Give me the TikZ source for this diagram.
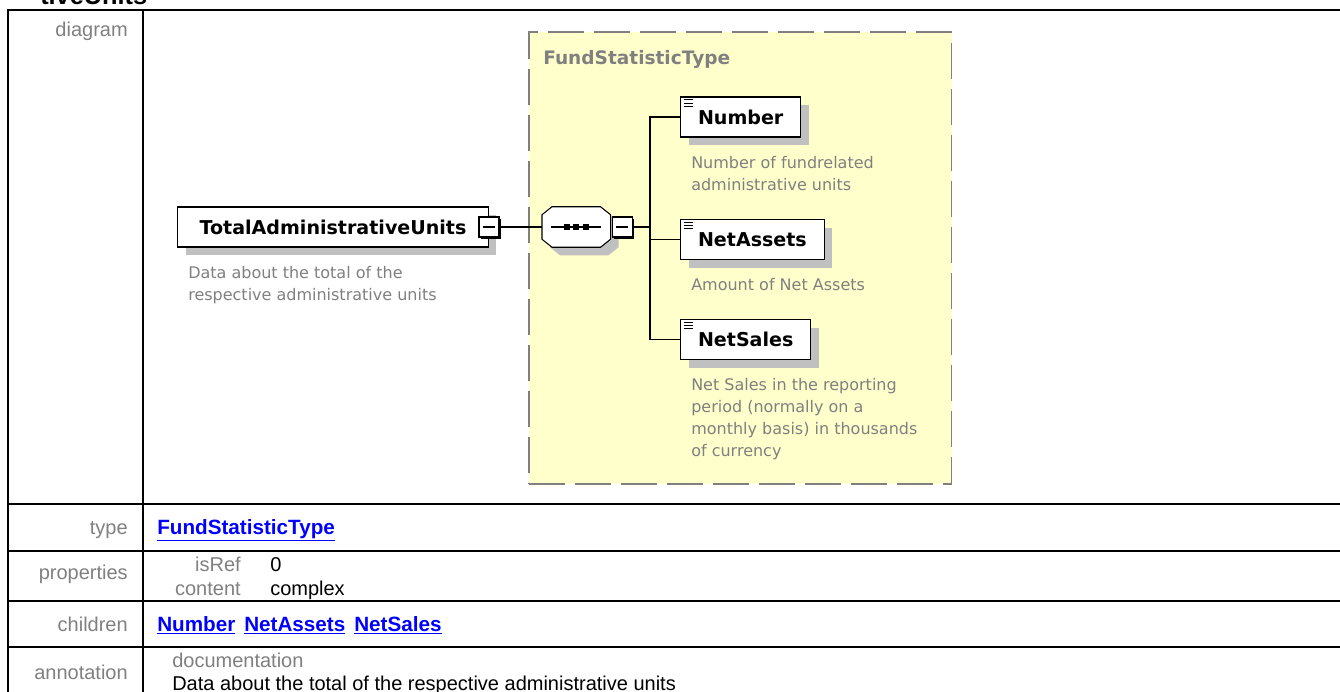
\documentclass[tikz,border=0pt]{standalone}
\usepackage{fontspec}
\setmainfont{Liberation Sans}
\newfontfamily\diafont{DejaVu Sans}
\usepackage{tikz}
\usetikzlibrary{positioning, shadows}

\definecolor{typefill}{RGB}{255,255,204}
\definecolor{shadowgray}{RGB}{192,192,192}
\definecolor{labelgray}{RGB}{128,128,128}
\definecolor{linkblue}{RGB}{0,0,255}

\begin{document}
\begin{tikzpicture}[
    x=0.75pt, y=-0.75pt,
    every node/.style={inner sep=0pt},
    rowlabel/.style={font=\fontsize{15}{18}\selectfont, text=labelgray, anchor=base east},
    cell/.style={font=\fontsize{15}{18}\selectfont, anchor=base west},
    link/.style={font=\fontsize{15.5}{18}\selectfont\bfseries, text=linkblue, anchor=base west},
    tableline/.style={line width=1.5pt},
    element/.style={rectangle, draw, line width=1pt, fill=white, minimum height=30pt,
        inner xsep=13pt, font=\diafont\fontsize{14.3}{17}\selectfont\bfseries,
        drop shadow={shadow xshift=6pt, shadow yshift=-6pt, fill=shadowgray, opacity=1}},
    desc/.style={font=\diafont\fontsize{12}{16.5}\selectfont, text=labelgray, align=left},
    toggle/.style={rectangle, draw, line width=0.8pt, fill=white, minimum size=15pt,
        drop shadow={shadow xshift=1.5pt, shadow yshift=-1.5pt, fill=black, opacity=1},
        path picture={\draw[line width=0.8pt] ([xshift=3pt]path picture bounding box.west)
            -- ([xshift=-3pt]path picture bounding box.east);}},
    seqframe/.style={draw, line width=0.8pt, fill=white,
        drop shadow={shadow xshift=6pt, shadow yshift=-6pt, fill=shadowgray, opacity=1}},
    typebox/.style={rectangle, draw=labelgray, fill=typefill, line width=1.3pt,
        dash pattern=on 27pt off 7.5pt, minimum width=317pt, minimum height=339pt},
    wire/.style={line width=1pt}
]
\useasboundingbox (0,0) rectangle (1340,692);
\clip (0,0) rectangle (1340,692);

% Titolo (tagliato)
\node[font=\fontsize{19}{22}\selectfont\bfseries, anchor=base west] (heading) at (40,5) {tiveUnits};

% Tabella
\draw[tableline] (8,10) rectangle (1350,720);
\draw[tableline] (143,10) -- (143,720);
\foreach \y in {504,551,601,647}
    \draw[tableline] (8,\y) -- (1350,\y);

\node[rowlabel] (lblDiagram) at (128,37) {diagram};
\node[rowlabel] (lblType) at (128,534) {type};
\node[rowlabel] (lblProps) at (128,579) {properties};
\node[rowlabel] (lblChildren) at (128,631) {children};
\node[rowlabel] (lblAnnotation) at (128,679) {annotation};

\node[link] (lnkType) at (157,534) {\underline{FundStatisticType}};
\node[rowlabel] (isRefKey) at (241,571) {isRef};
\node[cell] (isRefVal) at (270,571) {0};
\node[rowlabel] (contentKey) at (241,595) {content};
\node[cell] (contentVal) at (270,595) {complex};
\node[link] (lnkNumber) at (157,631) {\underline{Number}};
\node[link] (lnkNetAssets) at (244,631) {\underline{NetAssets}};
\node[link] (lnkNetSales) at (354,631) {\underline{NetSales}};
\node[cell, text=labelgray] (docKey) at (172,667) {documentation};
\node[cell] (docVal) at (172,690) {Data about the total of the respective administrative units};

% Tipo complesso
\node[typebox, anchor=north west] (fundType) at (528,31) {};
\node[font=\diafont\fontsize{13.9}{17}\selectfont\bfseries, text=labelgray, anchor=base west]
    (fundTypeLabel) at (543,65) {FundStatisticType};

% Elemento radice
\node[element, anchor=west, minimum width=233pt] (total) at (177,227) {TotalAdministrativeUnits};
\node[toggle] (totalToggle) at (total.east) {};
\node[desc, below right=13.5pt and 8.25pt of total.south west] (totalDesc)
    {Data about the total of the\\respective administrative units};

% Sequenza
\node[minimum width=51pt, minimum height=30pt, anchor=west] (seq) at (542,227) {};
\draw[seqframe] ([xshift=7.5pt]seq.north west) -- ([xshift=-7.5pt]seq.north east)
    -- ([yshift=-6pt]seq.north east) -- ([yshift=6pt]seq.south east)
    -- ([xshift=-7.5pt]seq.south east) -- ([xshift=7.5pt]seq.south west)
    -- ([yshift=6pt]seq.south west) -- ([yshift=-6pt]seq.north west) -- cycle;
\node[toggle, anchor=west] (seqToggle) at ([xshift=1pt]seq.east) {};
\draw[line width=0.8pt] ([xshift=7pt]seq.west) -- ([xshift=-7.5pt]seq.east);
\foreach \d in {-9.5,0,9.5}
    \fill[shift={(seq.center)}] (\d-3,-3) rectangle (\d+3,3);

% Figli
\node[element, anchor=west] (number) at (680,117) {Number};
\node[element, anchor=west] (netAssets) at (680,239.5) {NetAssets};
\node[element, anchor=west] (netSales) at (680,339.5) {NetSales};

\node[desc, below right=13.5pt and 8.25pt of number.south west] (numberDesc)
    {Number of fundrelated\\administrative units};
\node[desc, below right=13.5pt and 8.25pt of netAssets.south west] (netAssetsDesc)
    {Amount of Net Assets};
\node[desc, below right=13.5pt and 8.25pt of netSales.south west] (netSalesDesc)
    {Net Sales in the reporting\\period (normally on a\\monthly basis) in thousands\\of currency};

\foreach \el in {number, netAssets, netSales}
    \foreach \k in {0,1,2}
        \draw[line width=0.7pt] ([shift={(3.5,3.5+3.3*\k)}]\el.north west) -- ++(9,0);

% Collegamenti
\coordinate (bus) at (650,227);
\draw[wire] (totalToggle.east) -- (seq.west);
\draw[wire] (seqToggle.east) -- (bus);
\draw[wire] (number.west) -| (bus) |- (netSales.west);
\draw[wire] (bus) |- (netAssets.west);

\end{tikzpicture}
\end{document}
